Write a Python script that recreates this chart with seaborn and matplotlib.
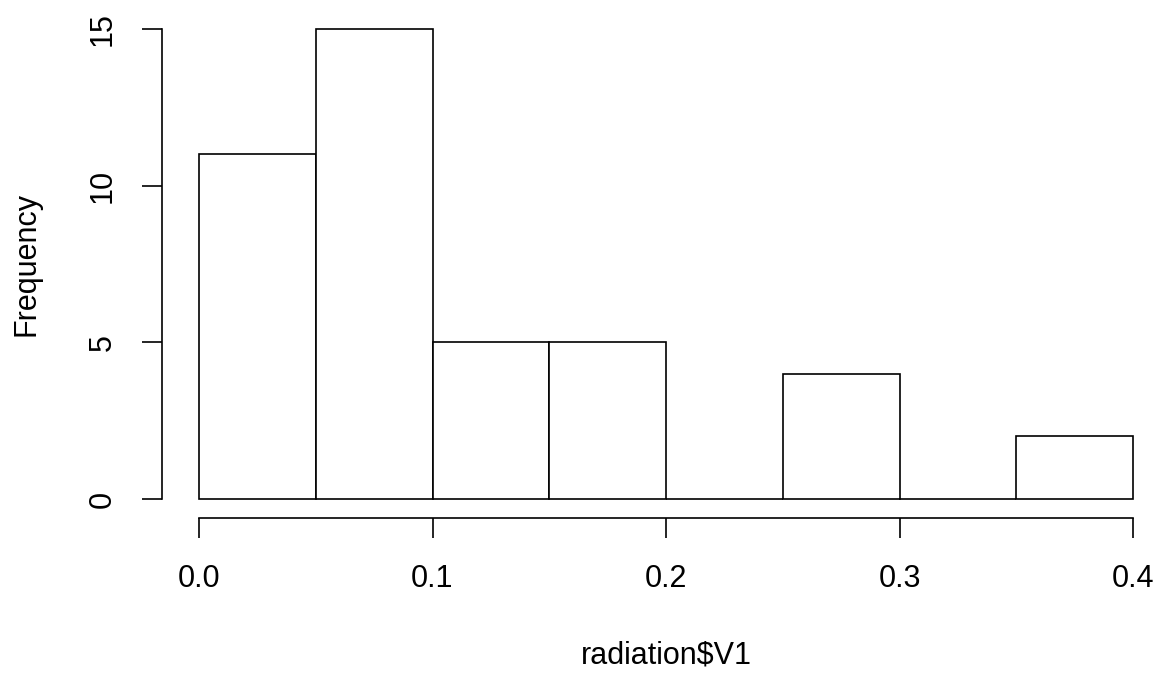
import matplotlib
matplotlib.use("Agg")
import matplotlib.pyplot as plt
import seaborn as sns
import numpy as np

# Histogram of radiation$V1: bin edges and counts per bin
bin_edges = [0.0, 0.05, 0.10, 0.15, 0.20, 0.25, 0.30, 0.35, 0.40]
counts = [11, 15, 5, 5, 0, 4, 0, 2]
x_ticks = [0.0, 0.1, 0.2, 0.3, 0.4]
x_tick_labels = ["0.0", "0.1", "0.2", "0.3", "0.4"]
y_ticks = [0, 5, 10, 15]
x_label = "radiation$V1"
y_label = "Frequency"

sns.set_style("white")
plt.rcParams["font.family"] = ["Liberation Sans", "DejaVu Sans"]
plt.rcParams["font.size"] = 22
plt.rcParams["text.color"] = "black"

W, H = 1163, 675
fig = plt.figure(figsize=(W / 100, H / 100), dpi=100)

# plot region in pixels (R-style 4% padding around data range)
px_per_x = (1133 - 199) / 0.4
px_per_y = (499 - 29) / 15
xlim = (-0.016, 0.416)
ylim = (-0.6, 15.6)
left = 199 + xlim[0] * px_per_x
right = 199 + xlim[1] * px_per_x
bottom = 499 - ylim[0] * px_per_y
top = 499 - ylim[1] * px_per_y
ax = fig.add_axes([left / W, 1 - bottom / H, (right - left) / W, (bottom - top) / H])

centers = [(a + b) / 2 for a, b in zip(bin_edges[:-1], bin_edges[1:])]
sns.histplot(x=centers, weights=counts, bins=bin_edges, ax=ax,
             stat="count", color="white", edgecolor="black",
             linewidth=1.2, alpha=1.0)

ax.set_xlim(*xlim)
ax.set_ylim(*ylim)
ax.set_xlabel("")
ax.set_ylabel("")
for s in ["top", "right"]:
    ax.spines[s].set_visible(False)
for s in ["left", "bottom"]:
    ax.spines[s].set_color("black")
    ax.spines[s].set_linewidth(1.2)
ax.spines["bottom"].set_bounds(0, 0.4)
ax.spines["left"].set_bounds(0, 15)

ax.set_xticks(x_ticks)
ax.set_xticklabels(x_tick_labels)
ax.set_yticks(y_ticks)
ax.set_yticklabels([str(v) for v in y_ticks], rotation=90, va="center")
ax.tick_params(axis="both", which="major", bottom=True, left=True,
               direction="out", length=14.4, width=1.2,
               color="black", labelcolor="black", labelsize=22)
ax.tick_params(axis="x", pad=19)
ax.tick_params(axis="y", pad=17)
ax.grid(False)

fig.text(666 / W, 1 - 655 / H, x_label, ha="center", va="center",
         fontsize=22, color="black")
fig.text(27 / W, 1 - 264 / H, y_label, ha="center", va="center",
         rotation=90, fontsize=22, color="black")

fig.savefig("out.png", dpi=100, facecolor="white")
